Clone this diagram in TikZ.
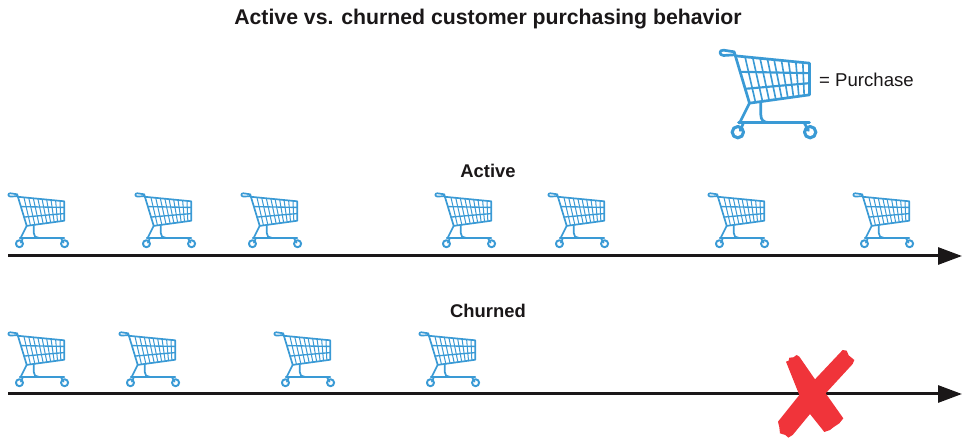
\documentclass[tikz,border=0pt]{standalone}
\usepackage{fontspec}
\setmainfont{Liberation Sans}
\usetikzlibrary{arrows.meta}
\definecolor{cartblue}{HTML}{3A9AD5}
\definecolor{inkblack}{HTML}{1A1718}
\definecolor{crossred}{HTML}{F0343A}
\tikzset{
  x=1pt,y=-1pt,
  timeline/.style={draw=inkblack,line width=3pt,-{Triangle[length=24pt,width=17pt]}},
  heading/.style={font=\bfseries\fontsize{18.4}{20}\selectfont,text=inkblack,inner sep=0pt},
  title text/.style={font=\bfseries\fontsize{21.25}{24}\selectfont,text=inkblack,inner sep=0pt},
  plain text/.style={font=\fontsize{18.6}{20}\selectfont,text=inkblack,inner sep=0pt},
  pics/cart/.style={code={
    \begin{scope}[shift={(-28,-32)},draw=cartblue,line cap=round,line join=round]
      \foreach \t/\b in {105/136,128/157,150/177,172/197,192/215,214/233,235/250,257/266,278/282}{
        \draw[line width=#1*0.6] ({\t},{50+(\t-78)*0.091}) -- ({\b},{190-(\b-118)*0.139});
      }
      \draw[line width=#1*0.8] (91,96) -- (298,100);
      \draw[line width=#1*0.8] (105,147) -- (298,130);
      \draw[line width=#1] (75,48) -- (298,70) -- (298,165) -- (118,190);
      \draw[line width=#1] (75,46) -- (118,190);
      \draw[line width=#1] (75,46) -- (72,36) -- (40,31) .. controls (26,30) and (26,46) .. (40,47) -- (72,45);
      \draw[line width=#1] (118,190) -- (88,250);
      \draw[line width=#1] (152,187) -- (152,225) .. controls (152,240) and (160,248) .. (175,248);
      \draw[line width=#1] (85,249) -- (298,249);
      \draw[line width=#1] (100,249) -- (90,272);
      \draw[line width=#1] (282,249) -- (295,272);
      \draw[line width=#1*1.15] (83,277) circle (17);
      \draw[line width=#1*1.15] (300,277) circle (17);
    \end{scope}
  }}
}
\begin{document}
\begin{tikzpicture}
\useasboundingbox (0,0) rectangle (962,438);
\node[title text] (title) at (488,19) {Active vs. churned customer purchasing behavior};
\node[plain text,anchor=west] (legend) at (819,80) {= Purchase};
\node[heading] (active) at (488,171) {Active};
\node[heading] (churned) at (488,311) {Churned};
\pic[scale=0.3333] at (719.5,50.5) {cart={2.7pt}};
\foreach \cx in {8,135,241,435,548,708,853}{
  \pic[xscale=0.208,yscale=0.205] at (\cx,193.5) {cart={1.7pt}};
}
\foreach \cx in {8,119,274,419}{
  \pic[xscale=0.208,yscale=0.205] at (\cx,332.5) {cart={1.7pt}};
}
\coordinate (a0) at (8,256);
\coordinate (a1) at (962,256);
\coordinate (c0) at (8,394);
\coordinate (c1) at (962,394);
\draw[timeline] (a0) -- (a1);
\draw[timeline] (c0) -- (c1);
\begin{scope}[shift={(760,340)},scale=0.3333]
\fill[crossred] (78,65) -- (86,62) -- (88,53) -- (100,52) -- (110,45) -- (118,50) -- (165,118)
  -- (248,30) -- (260,32) -- (266,46) -- (283,60) -- (278,72) -- (197,160) -- (250,235) -- (238,250)
  -- (220,262) -- (210,270) -- (193,276) -- (150,222) -- (98,285) -- (85,293) -- (76,285) -- (60,280)
  -- (58,262) -- (54,245) -- (118,165) -- cycle;
\end{scope}
\end{tikzpicture}
\end{document}
